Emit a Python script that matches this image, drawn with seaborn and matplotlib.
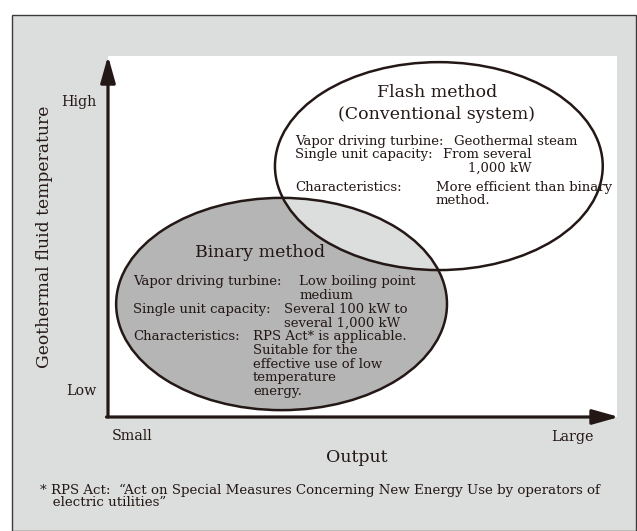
import matplotlib.pyplot as plt
import matplotlib.patches as mpatches
import seaborn as sns

# concept diagram data (output / temperature ranges on a 0-100 scale)
methods = ["Binary method", "Flash method"]
output_lo = [1.6, 32.8]
output_hi = [66.6, 97.2]
temp_lo = [1.9, 40.7]
temp_hi = [60.7, 98.3]
fills = ["#b5b5b6", "white"]

y_ticks = [87.8, 7.5]
y_ticklabels = ["High", "Low"]
x_ticks = [4.7, 91.2]
x_ticklabels = ["Small", "Large"]

binary_labels = ["Vapor driving turbine:", "Single unit capacity:", "Characteristics:"]
binary_values = ["Low boiling point\nmedium",
                 "Several 100 kW to\nseveral 1,000 kW",
                 "RPS Act* is applicable.\nSuitable for the\neffective use of low\ntemperature\nenergy."]
flash_labels = ["Vapor driving turbine:", "Single unit capacity:", "Characteristics:"]
flash_values = ["Geothermal steam",
                "From several\n1,000 kW",
                "More efficient than binary\nmethod."]

footnote = ("* RPS Act:  \u201cAct on Special Measures Concerning New Energy Use by operators of\n"
            "   electric utilities\u201d")

sns.set_style("white")
plt.rcParams["font.family"] = ["DejaVu Serif"]
ink = "#231815"

fig = plt.figure(figsize=(6.37, 5.31), dpi=100)
fig.patch.set_facecolor("white")
# gray panel with frame
fig.patches.append(mpatches.Rectangle((12 / 637, 0), 624 / 637, 1 - 15 / 531,
                                      transform=fig.transFigure, facecolor="#dcdddd",
                                      edgecolor="#3e3a39", linewidth=1.0, zorder=-5))

ax = fig.add_axes([108 / 637, 1 - 417 / 531, 509 / 637, 361 / 531])
ax.set_facecolor("white")
ax.set_xlim(0, 100)
ax.set_ylim(0, 100)
sns.despine(ax=ax, left=True, bottom=True)

# ellipses
ells = []
for i in range(2):
    cx = (output_lo[i] + output_hi[i]) / 2
    cy = (temp_lo[i] + temp_hi[i]) / 2
    w = output_hi[i] - output_lo[i]
    h = temp_hi[i] - temp_lo[i]
    e = mpatches.Ellipse((cx, cy), w, h, facecolor=fills[i], edgecolor="none", zorder=1)
    ax.add_patch(e)
    ells.append((cx, cy, w, h))

# overlap region in light gray
ov = mpatches.Ellipse(ells[0][:2], ells[0][2], ells[0][3], facecolor="#dcdddd",
                      edgecolor="none", zorder=2)
ax.add_patch(ov)
clip = mpatches.Ellipse(ells[1][:2], ells[1][2], ells[1][3], facecolor="none",
                        edgecolor="none", transform=ax.transData)
ax.add_patch(clip)
ov.set_clip_path(clip)

for cx, cy, w, h in ells:
    ax.add_patch(mpatches.Ellipse((cx, cy), w, h, facecolor="none", edgecolor=ink,
                                  linewidth=1.8, zorder=3))

# axis arrows
arrow = dict(arrowstyle="-|>,head_length=1.6,head_width=0.45", lw=2.3, color=ink,
             shrinkA=0, shrinkB=0)
ax.annotate("", xy=(0, 1.0), xytext=(0, 0), xycoords="axes fraction",
            arrowprops=arrow, annotation_clip=False)
ax.annotate("", xy=(1.004, 0), xytext=(-0.003, 0), xycoords="axes fraction",
            arrowprops=arrow, annotation_clip=False)

ax.set_yticks(y_ticks)
ax.set_yticklabels(y_ticklabels, fontsize=10.3, color=ink)
ax.set_xticks(x_ticks)
ax.set_xticklabels(x_ticklabels, fontsize=10.3, color=ink)
ax.tick_params(length=0, pad=8)
ax.tick_params(axis="x", pad=9)

# text blocks
tk = dict(fontsize=9.5, color=ink, va="top", linespacing=1.08, zorder=5)
ax.text(29.9, 45.7, methods[0], fontsize=12.5, color=ink, ha="center", va="center", zorder=5)
bx_lab = 4.9
bx_val = [37.6, 34.6, 28.5]
by = [39.3, 31.5, 24.1]
for lab, val, xv, yv in zip(binary_labels, binary_values, bx_val, by):
    ax.text(bx_lab, yv, lab, **tk)
    ax.text(xv, yv, val, **tk)

ax.text(64.6, 89.8, "Flash method", fontsize=12.5, color=ink, ha="center", va="center", zorder=5)
ax.text(64.6, 83.7, "(Conventional system)", fontsize=12.5, color=ink, ha="center",
        va="center", zorder=5)
fx_lab = 36.7
fx_val = [68.0, 65.8, 64.4]
fy = [78.0, 74.4, 65.5]
for lab, val, xv, yv in zip(flash_labels, flash_values, fx_val, fy):
    ax.text(fx_lab, yv, lab, **tk)
    ax.text(xv, yv, val, multialignment="right" if "1,000" in val else "left", **tk)

fig.text(45 / 637, 1 - 237 / 531, "Geothermal fluid temperature", rotation=90,
         fontsize=12.3, color=ink, ha="center", va="center")
fig.text(357 / 637, 1 - 457 / 531, "Output", fontsize=12.5, color=ink,
         ha="center", va="center")
fig.text(40 / 637, 1 - 484 / 531, footnote, fontsize=9.6, color=ink,
         ha="left", va="top", linespacing=0.92)

fig.savefig("out.png", dpi=100)
